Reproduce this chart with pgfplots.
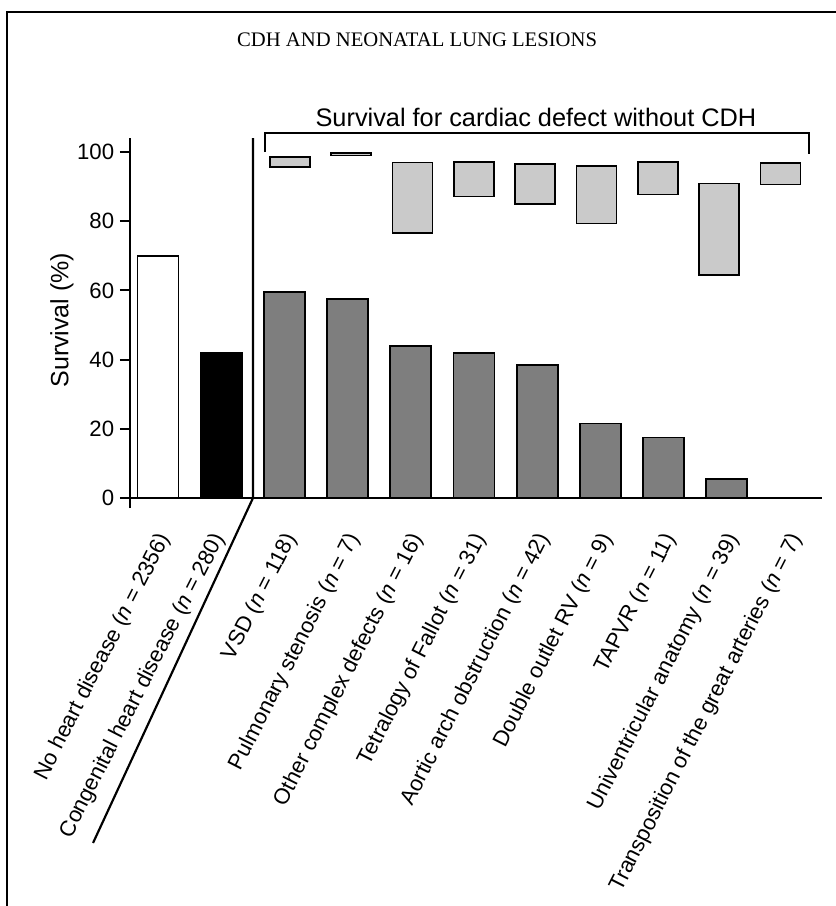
\documentclass[border=0pt]{standalone}
\usepackage{fontspec}
\setmainfont{Liberation Sans}
\newfontfamily\headfont{Liberation Serif}
\usepackage{pgfplots}
\usepackage{pgfplotstable}
\pgfplotsset{compat=1.18}

\definecolor{bardark}{RGB}{126,126,126}
\definecolor{barlight}{RGB}{202,202,202}

% Survival with CDH for each cardiac defect (position, percent)
\pgfplotstableread{
k  surv
2  59.5
3  57.5
4  44
5  42
6  38.5
7  21.5
8  17.5
9  5.5
10 0
}\defects

% Survival range for the same defect without CDH
\pgfplotstableread{
k  lo    hi
2  95.6  98.6
3  98.95 99.75
4  76.5  97.0
5  87.1  97.2
6  84.9  96.5
7  79.3  95.9
8  87.7  97.2
9  64.4  90.9
10 90.6  96.9
}\ranges

\begin{document}
\begin{tikzpicture}
\useasboundingbox (-94.8pt,-244.8pt) rectangle (406.2pt,298.8pt);
\begin{axis}[
  at={(0,0)}, anchor=origin,
  x=37.92pt, y=2.076pt,
  xmin=-0.443, xmax=10.506, ymin=-2.9, ymax=104,
  clip=false,
  ybar, bar width=24.6pt,
  axis y line*=left,
  axis x line*=bottom,
  x axis line style={draw=none},
  y axis line style={line width=1.3pt},
  xtick={0,0.86,2,3,4,5,6,7,8,9,10},
  xtick style={draw=none},
  ytick={0,20,...,100},
  ytick style={line width=1.2pt, black},
  tick align=outside,
  major tick length=6pt,
  /pgf/number format/assume math mode=true,
  yticklabel style={font=\fontsize{13.3}{16}\selectfont},
  xticklabels={
    No heart disease (\textit{n} = 2356),
    Congenital heart disease (\textit{n} = 280),
    VSD (\textit{n} = 118),
    Pulmonary stenosis (\textit{n} = 7),
    Other complex defects (\textit{n} = 16),
    Tetralogy of Fallot (\textit{n} = 31),
    Aortic arch obstruction (\textit{n} = 42),
    Double outlet RV (\textit{n} = 9),
    TAPVR (\textit{n} = 11),
    Univentricular anatomy (\textit{n} = 39),
    Transposition of the great arteries (\textit{n} = 7)},
  xticklabel style={font=\fontsize{13.2}{16}\selectfont, rotate=63,
    anchor=east, inner sep=0pt, xshift=-7pt, yshift=-8.5pt},
  ylabel={Survival (\%)},
  every axis y label/.style={at={(axis cs:-1.52,51.4)}, rotate=90,
    anchor=center, font=\fontsize{15}{18}\selectfont},
  title={Survival for cardiac defect without CDH},
  every axis title/.style={at={(axis cs:5.98,110.1)}, anchor=center,
    font=\fontsize{15.2}{18}\selectfont},
]
\addplot[fill=white, draw=black, line width=1pt, bar shift=0pt]
  coordinates {(0,70)};
\addplot[fill=black, draw=black, line width=1pt, bar shift=0pt]
  coordinates {(1,42)};
\addplot[fill=bardark, draw=black, line width=1pt, bar shift=0pt]
  table[x=k, y=surv] {\defects};

% baseline, divider and bracket
\draw[line width=1.3pt] (axis cs:-0.601,0) -- (axis cs:10.506,0);
\draw[line width=1.3pt] (axis cs:1.503,104) -- (axis cs:1.503,0)
  -- (axis cs:-1.028,-99.7);
\draw[line width=1.1pt] (axis cs:1.693,100) -- (axis cs:1.693,105.4)
  -- (axis cs:10.30,105.4) -- (axis cs:10.30,99.5);

% page frame and running head
\draw[line width=1.2pt] (axis cs:10.8,140.46) -- (axis cs:-2.389,140.46)
  -- (axis cs:-2.389,-120);
\node[font=\headfont\fontsize{12.4}{14}\selectfont] at (axis cs:4.10,132.4)
  {CDH AND NEONATAL LUNG LESIONS};
\end{axis}

\begin{axis}[
  at={(5.64pt,0)}, anchor=origin,
  x=36.78pt, y=2.076pt,
  xmin=-0.5, xmax=10.5, ymin=-2.9, ymax=104,
  hide axis, clip=false,
  ybar stacked, bar width=24pt,
]
\addplot[draw=none, fill=none] table[x=k, y=lo] {\ranges};
\addplot[fill=barlight, draw=black, line width=1pt]
  table[x=k, y expr=\thisrow{hi}-\thisrow{lo}] {\ranges};
\end{axis}
\end{tikzpicture}
\end{document}
